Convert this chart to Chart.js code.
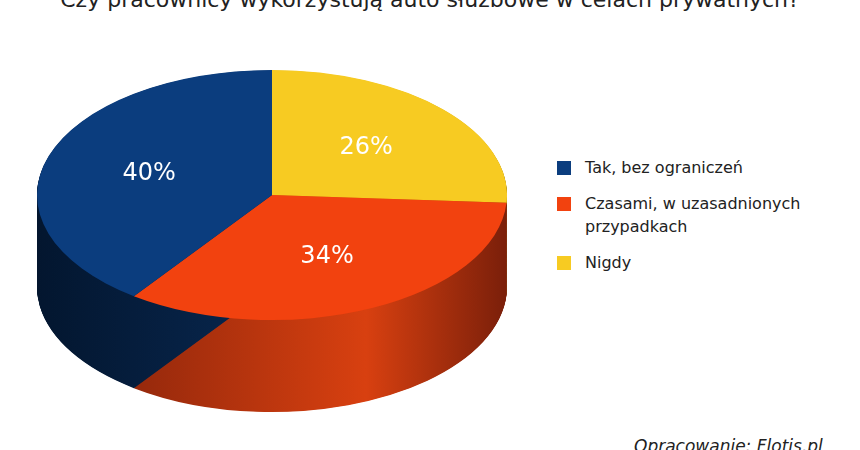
<!DOCTYPE html>
<html><head><meta charset="utf-8">
<script src="https://cdn.jsdelivr.net/npm/chart.js@4"></script>
<style>
body{margin:0;width:860px;height:450px;overflow:hidden;background:#fff;position:relative;font-family:"DejaVu Sans",sans-serif}
#title{position:absolute;top:-13px;left:0;width:860px;text-align:center;font-size:22px;color:#222;white-space:nowrap}
#box{position:absolute;left:37px;top:-40px;width:470px;height:470px}
#legend{position:absolute;left:557px;top:156px;font-size:16px;color:#222}
.it{position:relative;padding-left:28px;margin-bottom:13px;line-height:23px}
.sw{position:absolute;left:0;top:5px;width:14px;height:14px}
#foot{position:absolute;left:634px;top:436px;font-size:17px;font-style:italic;color:#222;white-space:nowrap}
</style></head><body>
<div id="title">Czy pracownicy wykorzystują auto służbowe w celach prywatnych?</div>
<div id="box"><canvas id="c"></canvas></div>
<div id="legend"></div>
<div id="foot">Opracowanie: Flotis.pl</div>
<script>
const categories=["Tak, bez ograniczeń","Czasami, w uzasadnionych<br>przypadkach","Nigdy"];
const values=[40,34,26];
const colors=["#0b3d7e","#f2420f","#f7cb22"];
const sideColors=[["#03162f","#0a2e5c"],["#7a1f0a","#d84010"],["#a07d10","#d9a816"]];
const SY=0.532, DEPTH=92;
const lg=document.getElementById('legend');
categories.forEach((c,i)=>{lg.innerHTML+=`<div class="it"><span class="sw" style="background:${colors[i]}"></span>${c}</div>`});
const order=[2,1,0];
const plugin={id:'p3d',
beforeDatasetsDraw(ch){const ctx=ch.ctx,els=ch.getDatasetMeta(0).data;const cx=els[0].x,cy=els[0].y;
 ctx.save();ctx.translate(cx,cy);ctx.scale(1,SY);ctx.translate(-cx,-cy);
 els.forEach((e,k)=>{const sc=sideColors[order[k]];const g=ctx.createLinearGradient(cx-e.outerRadius,0,cx+e.outerRadius,0);g.addColorStop(0,sc[0]);g.addColorStop(0.7,sc[1]);g.addColorStop(1,sc[0]);
  ctx.fillStyle=g;
  for(let d=DEPTH/SY;d>0;d-=1){ctx.beginPath();ctx.moveTo(e.x,e.y+d);ctx.arc(e.x,e.y+d,e.outerRadius,e.startAngle,e.endAngle);ctx.closePath();ctx.fill();}
 });},
afterDatasetsDraw(ch){const ctx=ch.ctx;ctx.restore();const els=ch.getDatasetMeta(0).data;const cx=els[0].x,cy=els[0].y;
 ctx.save();ctx.fillStyle='#fff';ctx.font='24px "DejaVu Sans"';ctx.textAlign='center';ctx.textBaseline='middle';
 els.forEach((e,k)=>{const a=(e.startAngle+e.endAngle)/2,r=e.outerRadius*0.55;ctx.fillText(values[order[k]]+'%',cx+Math.cos(a)*r,cy+Math.sin(a)*r*SY);});
 ctx.restore();}};
new Chart(document.getElementById('c'),{type:'pie',
 data:{labels:order.map(i=>categories[i]),datasets:[{data:order.map(i=>values[i]),backgroundColor:order.map(i=>colors[i]),borderWidth:0}]},
 options:{responsive:true,maintainAspectRatio:false,animation:false,layout:{padding:0},
  plugins:{legend:{display:false},tooltip:{enabled:false}}},plugins:[plugin]});
</script></body></html>
